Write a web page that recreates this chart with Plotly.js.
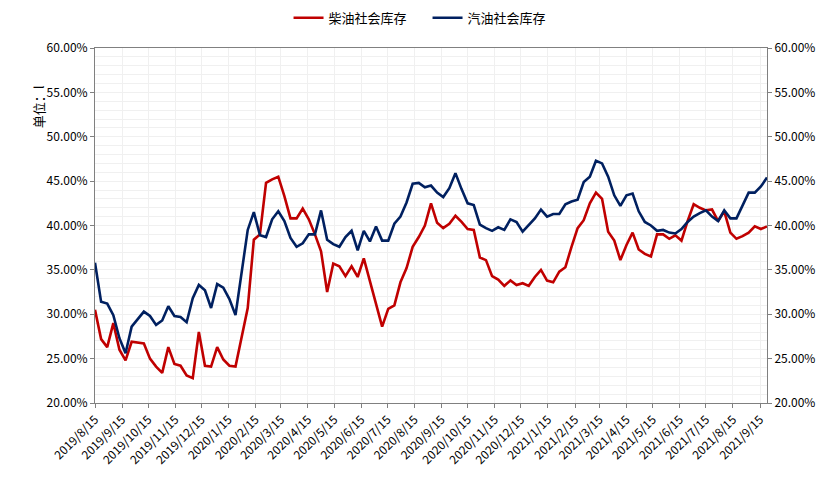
<!DOCTYPE html>
<html><head><meta charset="utf-8">
<script src="https://cdn.plot.ly/plotly-3.0.1.min.js"></script>
<style>html,body{margin:0;padding:0;background:#fff;}#chart{width:831px;height:480px;}</style>
</head><body><div id="chart"></div>
<script>
// Weekly observations starting 2019-08-15 (one point per week)
var startDate = '2019-08-15';
var seriesNames = ['柴油社会库存', '汽油社会库存'];
var diesel = [30.5,27.2,26.3,29.0,26.0,24.8,26.9,26.8,26.7,25.0,24.1,23.4,26.3,24.4,24.2,23.1,22.8,28.0,24.2,24.1,
  26.3,24.9,24.2,24.1,27.3,30.7,38.4,39.0,44.8,45.2,45.5,43.3,40.8,40.8,41.9,40.7,39.0,37.1,32.5,35.7,
  35.4,34.3,35.4,34.2,36.3,33.7,30.9,28.6,30.6,31.0,33.6,35.2,37.6,38.7,40.0,42.5,40.3,39.7,40.2,41.1,
  40.4,39.6,39.5,36.4,36.1,34.3,33.9,33.2,33.8,33.3,33.5,33.2,34.2,35.0,33.8,33.6,34.8,35.3,37.6,39.7,
  40.6,42.5,43.7,43.0,39.3,38.3,36.1,37.8,39.2,37.3,36.8,36.5,39.0,39.0,38.5,38.9,38.3,40.5,42.4,42.0,
  41.7,41.8,40.5,41.6,39.2,38.5,38.8,39.2,39.9,39.6,39.9];
var gasoline = [35.8,31.4,31.2,29.9,27.3,25.6,28.6,29.4,30.3,29.8,28.8,29.3,30.9,29.8,29.7,29.1,31.8,33.3,32.7,30.7,
  33.4,33.0,31.7,29.9,34.8,39.5,41.5,38.9,38.7,40.7,41.6,40.5,38.6,37.6,38.0,39.0,39.0,41.7,38.4,37.9,
  37.6,38.7,39.4,37.2,39.4,38.2,39.9,38.3,38.3,40.2,41.0,42.6,44.7,44.8,44.3,44.5,43.7,43.2,44.2,45.9,
  44.1,42.5,42.3,40.1,39.7,39.4,39.8,39.5,40.7,40.4,39.3,40.0,40.8,41.8,41.0,41.3,41.3,42.4,42.7,42.9,
  44.9,45.5,47.3,47.0,45.5,43.4,42.2,43.4,43.6,41.6,40.4,40.0,39.4,39.5,39.2,39.1,39.6,40.4,41.0,41.4,
  41.7,41.0,40.5,41.7,40.8,40.8,42.2,43.7,43.7,44.4,45.4];
var tickVals = ['2019-08-15','2019-09-15','2019-10-15','2019-11-15','2019-12-15','2020-01-15','2020-02-15','2020-03-15',
  '2020-04-15','2020-05-15','2020-06-15','2020-07-15','2020-08-15','2020-09-15','2020-10-15','2020-11-15','2020-12-15',
  '2021-01-15','2021-02-15','2021-03-15','2021-04-15','2021-05-15','2021-06-15','2021-07-15','2021-08-15','2021-09-15'];
var tickText = ['2019/8/15','2019/9/15','2019/10/15','2019/11/15','2019/12/15','2020/1/15','2020/2/15','2020/3/15',
  '2020/4/15','2020/5/15','2020/6/15','2020/7/15','2020/8/15','2020/9/15','2020/10/15','2020/11/15','2020/12/15',
  '2021/1/15','2021/2/15','2021/3/15','2021/4/15','2021/5/15','2021/6/15','2021/7/15','2021/8/15','2021/9/15'];
var unitLabel = '单位：l';

function weekly(n){
  var out=[]; var d0=new Date(startDate+'T00:00:00Z');
  for(var i=0;i<n;i++){var d=new Date(d0.getTime()+i*7*86400000); out.push(d.toISOString().slice(0,10));}
  return out;
}
var dates = weekly(diesel.length);
var FONT = '"Noto Sans CJK SC", "Noto Sans", sans-serif';

var traces = [
  {x: dates, y: diesel, name: seriesNames[0], type:'scatter', mode:'lines',
   line:{color:'#C00000', width:2.6}, yaxis:'y'},
  {x: dates, y: gasoline, name: seriesNames[1], type:'scatter', mode:'lines',
   line:{color:'#002060', width:2.6}, yaxis:'y2'}
];
var yCommon = {range:[20,60], dtick:5, tick0:20, tickformat:'.2f', ticksuffix:'%',
  ticks:'outside', ticklen:4, tickcolor:'#808080', tickfont:{family:FONT,size:12,color:'#000'},
  showline:true, linecolor:'#808080', linewidth:1, zeroline:false, fixedrange:true};
var layout = {
  width:831, height:480, margin:{l:95, r:64, t:48, b:77, autoexpand:false},
  paper_bgcolor:'#fff', plot_bgcolor:'#fff',
  font:{family:FONT, size:12, color:'#000'},
  showlegend:true,
  legend:{orientation:'h', x:0.288, xanchor:'left', y:1.085, yanchor:'middle', yref:'paper',
    bgcolor:'rgba(0,0,0,0)', entrywidth:94, entrywidthmode:'pixels',
    font:{family:FONT,size:13,color:'#000'}, traceorder:'normal'},
  xaxis:{type:'date', range:['2019-08-15','2021-09-23'], tickmode:'array', tickvals:tickVals, ticktext:tickText,
    tickangle:-45, ticks:'outside', ticklen:4, tickcolor:'#808080', tickfont:{family:FONT,size:12,color:'#000'},
    showgrid:true, gridcolor:'#F0F0F0', gridwidth:1,
    showline:true, linecolor:'#808080', linewidth:1, mirror:true, zeroline:false},
  yaxis: Object.assign({}, yCommon, {side:'left', showgrid:true, gridcolor:'#F0F0F0', gridwidth:1,
    minor:{dtick:1, showgrid:true, gridcolor:'#F0F0F0', gridwidth:1}}),
  yaxis2: Object.assign({}, yCommon, {side:'right', overlaying:'y', showgrid:false}),
  annotations:[{text:unitLabel, xref:'paper', yref:'paper', x:-0.101, y:0.901, textangle:-90,
    showarrow:false, font:{family:FONT,size:13,color:'#000'}}]
};
Plotly.newPlot('chart', traces, layout, {displayModeBar:false, staticPlot:true});
</script></body></html>
